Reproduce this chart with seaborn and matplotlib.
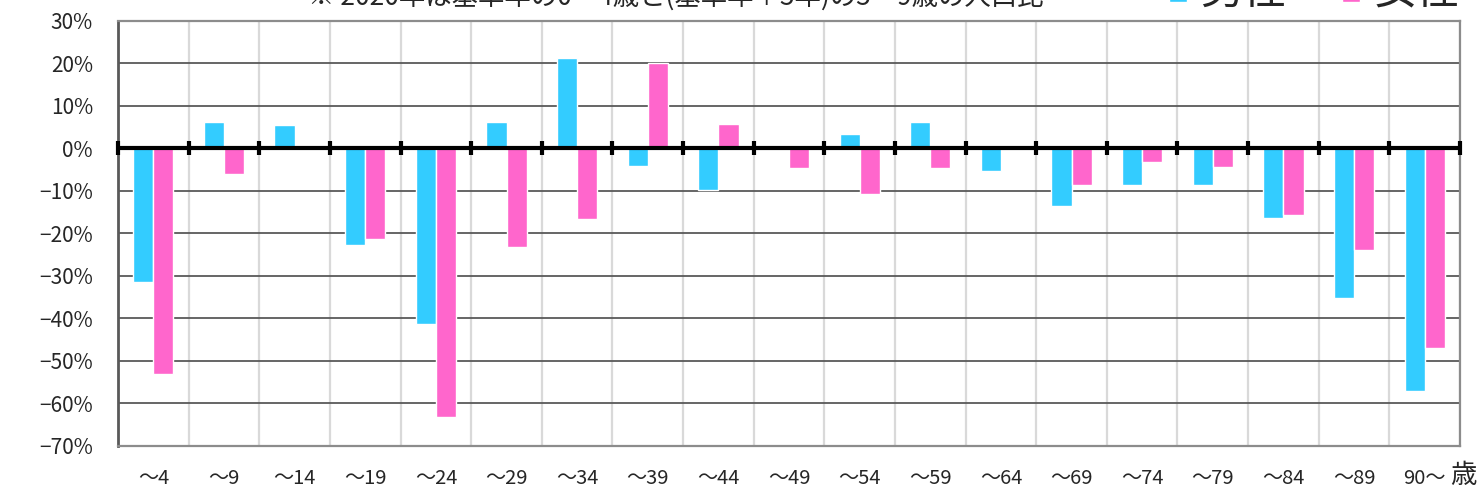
import matplotlib
matplotlib.use("Agg")
import matplotlib.pyplot as plt
from matplotlib.ticker import FuncFormatter
import numpy as np
import pandas as pd
import seaborn as sns

# ── Dados ────────────────────────────────────────────────
ages = ["～4", "～9", "～14", "～19", "～24", "～29", "～34", "～39", "～44",
        "～49", "～54", "～59", "～64", "～69", "～74", "～79", "～84", "～89", "90～"]
male = [-31.3, 6.3, 5.5, -22.8, -41.2, 6.3, 21.4, -4.1, -9.8,
        0.0, 3.5, 6.3, -5.3, -13.5, -8.5, -8.5, -16.4, -35.1, -57.1]
female = [-53.1, -5.9, 0.0, -21.4, -63.2, -23.1, -16.6, 20.0, 5.8,
          -4.7, -10.8, -4.6, 0.0, -8.5, -3.2, -4.3, -15.6, -23.9, -46.9]
series = ["男性", "女性"]
colors = ["#33CCFF", "#FF66CC"]
title = "※ 2020年は基準年の0～4歳と(基準年＋5年)の5～9歳の人口比"
y_ticks = list(range(-70, 31, 10))

df = pd.DataFrame({
    "age": ages * 2,
    "sex": [series[0]] * len(ages) + [series[1]] * len(ages),
    "value": male + female,
})

sns.set_style("white")
plt.rcParams["font.family"] = ["Noto Sans CJK JP", "DejaVu Sans"]

fig = plt.figure(figsize=(14.83, 4.95), dpi=100)
ax = fig.add_axes([0.0796, 0.099, 0.9049, 0.8586])

sns.barplot(data=df, x="age", y="value", hue="sex", order=ages,
            hue_order=series, palette=colors, width=0.57, gap=0,
            saturation=1, ax=ax)

n = len(ages)
ax.set_xlim(-0.5, n - 0.5)
ax.set_ylim(-70, 30)
ax.set_yticks(y_ticks)
ax.yaxis.set_major_formatter(FuncFormatter(lambda v, _: f"{int(v)}%".replace("-", "−")))

# Grade: horizontais escuras, verticais claras nos limites das categorias
ax.set_xticks(np.arange(-0.5, n), minor=True)
ax.grid(which="major", axis="y", color="#595959", lw=1.3)
ax.grid(which="minor", axis="x", color="#d9d9d9", lw=1.6)
ax.set_axisbelow(True)
ax.tick_params(axis="x", which="both", length=0, pad=16, labelsize=14.5)
ax.tick_params(axis="y", length=0, pad=18, labelsize=15)

ax.axhline(0, color="black", lw=3, zorder=3)
ax.plot(np.arange(-0.5, n), np.zeros(n + 1), ls="none", marker="|",
        ms=10, mew=3, color="black", zorder=4, clip_on=False)

for side in ["top", "right", "bottom"]:
    ax.spines[side].set_color("#8c8c8c")
    ax.spines[side].set_linewidth(1.6)
ax.spines["left"].set_color("#595959")
ax.spines["left"].set_linewidth(2)

ax.set_xlabel("")
ax.set_ylabel("")
ax.text(n - 0.45, -0.07, "歳", transform=ax.get_xaxis_transform(),
        ha="center", va="center", fontsize=19)

# Título e legenda (parcialmente cortados no topo, como na referência)
fig.text(0.456, 0.978, title, ha="center", va="bottom", fontsize=19)
sns.move_legend(ax, "lower left", bbox_to_anchor=(0.774, 0.928),
                bbox_transform=fig.transFigure, ncol=2, frameon=False,
                title=None, fontsize=31, handlelength=0.42, handleheight=0.58,
                handletextpad=0.3, columnspacing=1.3, borderpad=0)

fig.savefig("out.png", dpi=100)
